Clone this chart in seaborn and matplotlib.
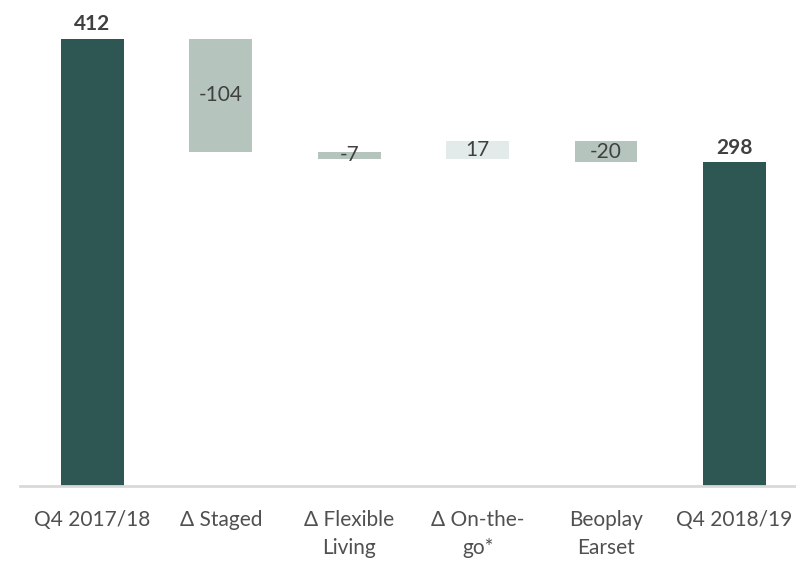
import matplotlib
matplotlib.use("Agg")
import matplotlib.pyplot as plt
import seaborn as sns
import numpy as np
import pandas as pd

categories = ["Q4 2017/18", "Δ Staged", "Δ Flexible\nLiving", "Δ On-the-\ngo*", "Beoplay\nEarset", "Q4 2018/19"]
values = [412, -104, -7, 17, -20, 298]
is_total = [True, False, False, False, False, True]

dark = "#2E5653"
light = "#B5C5BE"
pale = "#E2EBE9"
bar_colors = [dark, light, light, pale, light, dark]
text_color = "#404040"
tick_color = "#505050"

# waterfall geometry from values
bottoms, heights = [], []
running = 0
for v, t in zip(values, is_total):
    if t:
        bottoms.append(0)
        heights.append(v)
        running = v
    else:
        new = running + v
        bottoms.append(min(running, new))
        heights.append(abs(v))
        running = new

df = pd.DataFrame({"category": categories, "height": heights})

sns.set_theme(style="white")
plt.rcParams["font.family"] = ["Lato", "DejaVu Sans"]

fig = plt.figure(figsize=(7.96, 5.61), dpi=100)
ax = fig.add_axes([20 / 796, 1 - 486 / 561, 776 / 796, 486 / 561])

sns.barplot(data=df, x="category", y="height", order=categories, width=0.49,
            bottom=bottoms, ax=ax, color=dark, saturation=1, linewidth=0)
for p, c in zip(ax.patches, bar_colors):
    p.set_facecolor(c)
    p.set_edgecolor("none")

ax.set_xlim(-0.565, 5.48)
ax.set_ylim(0, 447.5)

for i, (v, t, b, h) in enumerate(zip(values, is_total, bottoms, heights)):
    if t:
        ax.text(i, b + h + 4, f"{v}", ha="center", va="bottom", fontsize=15,
                fontweight="bold", color=text_color)
    else:
        ax.text(i, b + h / 2, f"{v}", ha="center", va="center", fontsize=15,
                color=text_color)

for s in ["top", "right", "left"]:
    ax.spines[s].set_visible(False)
ax.spines["bottom"].set_color("#D9D9D9")
ax.spines["bottom"].set_linewidth(2)
ax.set_yticks([])
ax.set_xlabel("")
ax.set_ylabel("")
ax.tick_params(axis="x", length=0, pad=17, labelsize=15, colors=tick_color)
ax.set_xticks(range(len(categories)))
ax.set_xticklabels(categories, linespacing=1.5, fontsize=15, color=tick_color)

fig.savefig("out.png", dpi=100)
